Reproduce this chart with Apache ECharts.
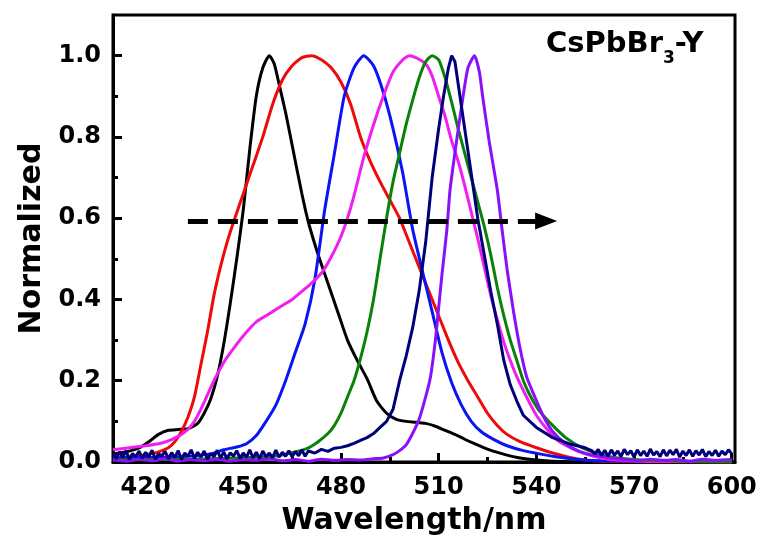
<!DOCTYPE html>
<html lang="en">
<head>
	<meta charset="UTF-8">
	<title>CsPbBr3-Y PL</title>
	<style type="text/css">
	body{margin: 0;padding: 0;background: #fff;}
	#main{width: 769px;height: 541px;}
	</style>
</head>
<body>
	<div id="main"></div>

	<script src="https://cdn.jsdelivr.net/npm/echarts@6/dist/echarts.min.js"></script>
	<script>
		// wavelength (nm), normalized intensity
		var black = [[410,0.02],[414,0.025],[418,0.035],[421,0.05],[424,0.068],[427,0.078],[430,0.08],[433,0.082],[436,0.095],[438,0.12],[440,0.155],[442,0.21],[444,0.29],[446,0.39],[448,0.5],[450,0.62],[452,0.77],[454,0.9],[456,0.97],[458,1.0],[459.5,0.98],[461,0.93],[463,0.86],[465,0.78],[468,0.66],[470,0.59],[473,0.51],[476,0.44],[479,0.37],[482,0.3],[485,0.25],[488,0.205],[491,0.15],[494,0.12],[497,0.105],[500,0.1],[503,0.098],[506,0.095],[509,0.088],[512,0.078],[515,0.068],[518,0.056],[521,0.045],[524,0.035],[527,0.026],[531,0.017],[535,0.01],[540,0.005],[545,0.002],[555,0],[600,0]];
		var red = [[410,0.01],[415,0.012],[420,0.018],[424,0.025],[427,0.035],[429,0.05],[431,0.075],[433,0.11],[435,0.16],[437,0.24],[439,0.32],[441,0.41],[443,0.48],[445,0.54],[447,0.59],[450,0.66],[453,0.73],[456,0.8],[459,0.88],[462,0.94],[465,0.975],[468,0.995],[471,1.0],[474,0.99],[477,0.97],[480,0.935],[483,0.88],[486,0.8],[489,0.74],[492,0.69],[495,0.645],[498,0.6],[501,0.54],[504,0.48],[507,0.42],[510,0.36],[513,0.3],[516,0.245],[519,0.2],[522,0.16],[525,0.12],[528,0.09],[531,0.068],[535,0.05],[540,0.035],[545,0.022],[550,0.012],[555,0.005],[560,0.002],[600,0]];
		var blue = [[410,0.01],[430,0.012],[440,0.02],[444,0.03],[448,0.037],[451,0.045],[454,0.065],[457,0.1],[460,0.14],[463,0.2],[466,0.27],[469,0.34],[472,0.45],[475,0.62],[478,0.76],[481,0.9],[484,0.97],[487,1.0],[490,0.975],[493,0.91],[496,0.82],[499,0.71],[502,0.573],[505,0.47],[508,0.37],[511,0.27],[514,0.195],[517,0.14],[520,0.1],[523,0.075],[527,0.055],[531,0.04],[536,0.028],[541,0.02],[546,0.013],[552,0.007],[560,0.003],[600,0]];
		var magenta = [[410,0.03],[415,0.035],[420,0.04],[424,0.045],[427,0.052],[430,0.063],[433,0.08],[435,0.1],[437,0.13],[439,0.165],[441,0.2],[444,0.245],[448,0.29],[451,0.32],[454,0.345],[457,0.36],[459,0.37],[462,0.385],[465,0.4],[468,0.42],[471,0.44],[474,0.465],[476,0.49],[478,0.52],[480,0.555],[482,0.6],[484,0.655],[487,0.75],[490,0.83],[493,0.9],[496,0.96],[499,0.99],[501,1.0],[503,0.995],[506,0.98],[508,0.95],[510,0.9],[512,0.85],[514,0.79],[516,0.74],[518,0.68],[520,0.615],[522,0.55],[524,0.48],[526,0.41],[528,0.35],[530,0.295],[532,0.25],[534,0.21],[537,0.16],[540,0.115],[543,0.083],[547,0.05],[551,0.033],[555,0.02],[560,0.01],[566,0.004],[575,0.001],[600,0]];
		var green = [[410,0.005],[440,0.008],[460,0.015],[466,0.025],[470,0.035],[473,0.05],[476,0.07],[478,0.09],[480,0.12],[482,0.16],[484,0.2],[486,0.255],[488,0.32],[490,0.4],[492,0.5],[494,0.6],[496,0.69],[498,0.76],[500,0.83],[502,0.89],[504,0.945],[506,0.985],[508,1.0],[510,0.99],[512,0.945],[514,0.885],[516,0.82],[518,0.76],[520,0.7],[522,0.64],[524,0.58],[526,0.51],[528,0.43],[530,0.36],[532,0.3],[534,0.25],[536,0.2],[538,0.165],[541,0.125],[545,0.09],[549,0.06],[554,0.035],[559,0.02],[565,0.01],[575,0.004],[600,0]];
		var navy = [[410,0.022],[411,0.008],[412,0.025],[413,0.011],[414,0.028],[415,0.006],[416,0.021],[417,0.013],[418,0.027],[419,0.009],[420,0.024],[421,0.012],[422,0.029],[423,0.007],[424,0.02],[425,0.015],[426,0.026],[427,0.008],[428,0.023],[429,0.011],[430,0.028],[431,0.006],[432,0.022],[433,0.014],[434,0.03],[435,0.009],[436,0.024],[437,0.012],[438,0.027],[439,0.007],[440,0.021],[441,0.013],[442,0.029],[443,0.01],[444,0.025],[445,0.008],[446,0.023],[447,0.014],[448,0.028],[449,0.009],[450,0.022],[451,0.012],[452,0.03],[453,0.01],[454,0.024],[455,0.008],[456,0.027],[457,0.013],[458,0.022],[459,0.011],[460,0.029],[461,0.012],[462,0.024],[463,0.014],[464,0.028],[465,0.013],[466,0.026],[467,0.015],[468,0.03],[469,0.014],[470,0.027],[472,0.022],[474,0.031],[476,0.026],[478,0.034],[480,0.036],[482,0.04],[484,0.046],[486,0.053],[488,0.06],[490,0.07],[492,0.085],[494,0.1],[496,0.13],[498,0.2],[500,0.26],[502,0.33],[504,0.42],[506,0.54],[508,0.7],[510,0.82],[511.5,0.9],[513,0.97],[514,1.0],[515,0.985],[516,0.93],[518,0.82],[520,0.71],[522,0.6],[524,0.51],[526,0.42],[528,0.34],[530,0.25],[532,0.19],[534,0.15],[536,0.115],[540,0.085],[545,0.06],[550,0.045],[555,0.035],[557,0.028],[558,0.02],[559,0.031],[560,0.016],[561,0.029],[562,0.014],[563,0.03],[564,0.017],[565,0.027],[566,0.013],[567,0.031],[568,0.018],[569,0.028],[570,0.012],[571,0.03],[572,0.016],[573,0.027],[574,0.014],[575,0.032],[576,0.017],[577,0.026],[578,0.013],[579,0.03],[580,0.015],[581,0.029],[582,0.018],[583,0.031],[584,0.012],[585,0.027],[586,0.016],[587,0.03],[588,0.014],[589,0.028],[590,0.017],[591,0.031],[592,0.013],[593,0.026],[594,0.016],[595,0.029],[596,0.014],[597,0.027],[598,0.018],[599,0.03],[600,0.02]];
		var purple = [[410,0.006],[414,0.002],[418,0.007],[422,0.003],[426,0.008],[430,0.002],[434,0.006],[438,0.003],[442,0.007],[446,0.002],[450,0.006],[454,0.004],[458,0.008],[462,0.003],[466,0.006],[470,0.002],[474,0.007],[478,0.004],[482,0.006],[486,0.005],[490,0.008],[493,0.01],[496,0.018],[498,0.028],[500,0.042],[502,0.07],[504,0.105],[506,0.16],[507.5,0.21],[509,0.3],[510,0.38],[511,0.46],[512.5,0.57],[513.5,0.67],[515.5,0.79],[517.5,0.9],[519,0.97],[521,1.0],[522.5,0.96],[523.5,0.9],[525.5,0.79],[528,0.67],[529.5,0.57],[531,0.475],[533,0.37],[535,0.28],[537,0.21],[539,0.17],[542,0.115],[545,0.075],[549,0.045],[553,0.027],[558,0.016],[563,0.01],[567,0.006],[571,0.003],[575,0.007],[579,0.004],[583,0.006],[587,0.002],[591,0.007],[595,0.004],[600,0.006]];

		var xTicks = [420,450,480,510,540,570,600];
		var xMinor = [435,465,495,525,555,585];
		var yTicks = [0,0.2,0.4,0.6,0.8,1.0];
		var yMinor = [0.1,0.3,0.5,0.7,0.9];
		var arrowFrom = [433,0.593];
		var arrowTo = [543,0.593];

		var font = 'DejaVu Sans';
		var myChart = echarts.init(document.getElementById('main'));

		function curve(name,data,color){
			return {
				name:name,
				type:'line',
				data:data,
				showSymbol:false,
				smooth:0.2,
				lineStyle:{color:color,width:3},
				xAxisIndex:0,
				yAxisIndex:0
			};
		}

		var series = [
			curve('black',black,'#000000'),
			curve('red',red,'#ee0a0a'),
			curve('blue',blue,'#0a14f5'),
			curve('magenta',magenta,'#f01ef0'),
			curve('green',green,'#0a820a'),
			curve('purple',purple,'#8a10fa'),
			curve('navy',navy,'#00007a')
		];
		series[6].smooth = false;
		series[0].markLine = {
			silent:true,
			symbol:['none','none'],
			label:{show:false},
			lineStyle:{color:'#000',width:5,type:[20,10]},
			data:[[{coord:arrowFrom},{coord:arrowTo}]]
		};
		// arrow head
		series.push({
			type:'scatter',
			data:[arrowTo],
			symbol:'triangle',
			symbolSize:[17,22],
			symbolRotate:-90,
			itemStyle:{color:'#000',opacity:1},
			silent:true,
			z:5
		});

		var option = {
			animation:false,
			backgroundColor:'#fff',
			title:{
				text:'{a|CsPbBr}{s|3}{a|-Y}',
				left:541,
				top:16,
				textStyle:{
					rich:{
						a:{fontFamily:font,fontWeight:'bold',fontSize:29,color:'#000',lineHeight:46,verticalAlign:'middle'},
						s:{fontFamily:font,fontWeight:'bold',fontSize:17,color:'#000',lineHeight:17,verticalAlign:'bottom'}
					}
				}
			},
			grid:{
				left:113,right:34,top:15,bottom:77,
				show:true,
				borderColor:'#000',
				borderWidth:3
			},
			xAxis:[{
				type:'value',
				min:410,
				max:601,
				name:'Wavelength/nm',
				nameLocation:'middle',
				nameGap:44,
				nameTextStyle:{fontFamily:font,fontWeight:'bold',fontSize:30,color:'#000',padding:[0,20,0,0]},
				axisLine:{lineStyle:{color:'#000',width:3}},
				axisTick:{inside:true,length:9,lineStyle:{width:3,color:'#000'},customValues:xTicks},
				axisLabel:{fontFamily:font,fontWeight:'bold',fontSize:24,color:'#000',margin:14,customValues:xTicks},
				splitLine:{show:false}
			},{
				type:'value',
				min:410,
				max:601,
				position:'bottom',
				axisLine:{show:false},
				axisTick:{inside:true,length:5,lineStyle:{width:3,color:'#000'},customValues:xMinor},
				axisLabel:{show:false},
				splitLine:{show:false}
			}],
			yAxis:[{
				type:'value',
				min:0,
				max:1.1,
				name:'Normalized',
				nameLocation:'middle',
				nameRotate:90,
				nameGap:62,
				nameTextStyle:{fontFamily:font,fontWeight:'bold',fontSize:30,color:'#000'},
				axisLine:{lineStyle:{color:'#000',width:3}},
				axisTick:{inside:true,length:9,lineStyle:{width:3,color:'#000'},customValues:yTicks},
				axisLabel:{fontFamily:font,fontWeight:'bold',fontSize:24,color:'#000',margin:12,customValues:yTicks,
					formatter:function(v){return v.toFixed(1);}},
				splitLine:{show:false}
			},{
				type:'value',
				min:0,
				max:1.1,
				position:'left',
				axisLine:{show:false},
				axisTick:{inside:true,length:5,lineStyle:{width:3,color:'#000'},customValues:yMinor},
				axisLabel:{show:false},
				splitLine:{show:false}
			}],
			series:series
		};
		myChart.setOption(option);
	</script>
</body>
</html>
